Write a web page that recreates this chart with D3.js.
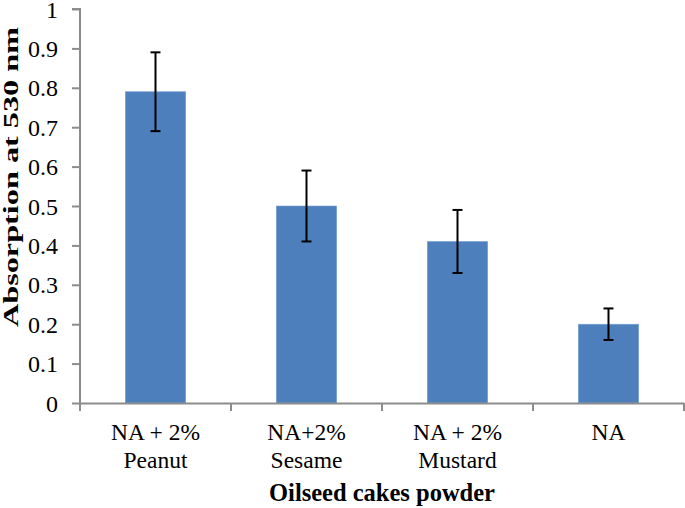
<!DOCTYPE html>
<html><head><meta charset="utf-8">
<script src="https://cdn.jsdelivr.net/npm/d3@7"></script>
<style>html,body{margin:0;padding:0;background:#fff;} text{font-family:"Liberation Serif","Times New Roman",Times,serif;}</style>
</head><body>
<svg id="c" width="685" height="508"></svg>
<script>
const categories = [["NA + 2%","Peanut"],["NA+2%","Sesame"],["NA + 2%","Mustard"],["NA"]];
const values = [0.79, 0.50, 0.41, 0.20];
const errUpper = [0.89, 0.59, 0.49, 0.24];
const errLower = [0.69, 0.41, 0.33, 0.16];
const yTicks = [0,0.1,0.2,0.3,0.4,0.5,0.6,0.7,0.8,0.9,1];
const yTickLabels = ["0","0.1","0.2","0.3","0.4","0.5","0.6","0.7","0.8","0.9","1"];
const xTitle = "Oilseed cakes powder";
const yTitle = "Absorption at 530 nm";

const svg = d3.select("#c");
const m = {left:80, right:1, top:9, bottom:105};
const W = 685, H = 508;
const x = d3.scaleBand().domain(d3.range(categories.length)).range([m.left, W - m.right]).paddingInner(0.6).paddingOuter(0.3);
const xb = d3.scaleBand().domain(d3.range(categories.length)).range([m.left, W - m.right]);
const y = d3.scaleLinear().domain([0,1]).range([H - m.bottom, m.top]);
const font = "Liberation Serif, Times New Roman, Times, serif";

// pattern
const defs = svg.append("defs");
const pat = defs.append("pattern").attr("id","dots").attr("patternUnits","userSpaceOnUse").attr("width",4).attr("height",4);
pat.append("rect").attr("width",4).attr("height",4).attr("fill","#4c7fbc");
pat.append("rect").attr("x",1).attr("y",1).attr("width",1).attr("height",1).attr("fill","#6a7d96");
pat.append("rect").attr("x",3).attr("y",3).attr("width",1).attr("height",1).attr("fill","#5a7dab");

// bars
svg.selectAll("rect.bar").data(values).join("rect").attr("class","bar")
  .attr("x",(d,i)=>x(i)).attr("width",x.bandwidth())
  .attr("y",d=>y(d)).attr("height",d=>y(0)-y(d))
  .attr("fill","url(#dots)").attr("stroke","#7aa3d6").attr("stroke-width",0.6);

// y axis
const ya = svg.append("g").attr("transform",`translate(${m.left},0)`)
  .call(d3.axisLeft(y).tickValues(yTicks).tickFormat((d,i)=>yTickLabels[i]).tickSize(8).tickPadding(14));
ya.attr("font-family",null).attr("font-size",null);
ya.select(".domain").attr("stroke","#8c8c8c").attr("stroke-width",2).attr("d",`M-8,${y(1)}H0V${y(0)}`);
ya.selectAll(".tick line").attr("stroke","#8c8c8c").attr("stroke-width",2);
ya.selectAll(".tick text").attr("font-family",font).attr("font-size",24).attr("fill","#000").attr("dy","0.34em");

// x axis
const xa = svg.append("g").attr("transform",`translate(0,${y(0)})`)
  .call(d3.axisBottom(xb).tickValues([]).tickSizeOuter(0));
xa.select(".domain").attr("stroke","#8c8c8c").attr("stroke-width",2);
const bounds = [m.left].concat(d3.range(categories.length).map(i=>xb(i)+xb.bandwidth()));
xa.selectAll("line.sep").data(bounds).join("line").attr("class","sep")
  .attr("x1",d=>d).attr("x2",d=>d).attr("y1",0).attr("y2",8)
  .attr("stroke","#8c8c8c").attr("stroke-width",2);

// category labels
const lab = svg.append("g");
categories.forEach((c,i)=>{
  const cx = xb(i)+xb.bandwidth()/2;
  const t = lab.append("text").attr("x",cx).attr("y",440)
    .attr("text-anchor","middle").attr("font-family",font).attr("font-size",23.5).attr("fill","#000");
  c.forEach((line,j)=>t.append("tspan").attr("x",cx).attr("dy", j===0?0:28).text(line));
});

// error bars
const eb = svg.append("g").attr("stroke","#000").attr("stroke-width",2);
values.forEach((v,i)=>{
  const cx = x(i)+x.bandwidth()/2;
  eb.append("line").attr("x1",cx).attr("x2",cx).attr("y1",y(errUpper[i])).attr("y2",y(errLower[i]));
  eb.append("line").attr("x1",cx-5).attr("x2",cx+5).attr("y1",y(errUpper[i])).attr("y2",y(errUpper[i]));
  eb.append("line").attr("x1",cx-5).attr("x2",cx+5).attr("y1",y(errLower[i])).attr("y2",y(errLower[i]));
});

// titles
svg.append("text").attr("x",(m.left+W-m.right)/2).attr("y",501).attr("text-anchor","middle")
  .attr("font-family",font).attr("font-weight","bold").attr("font-size",24.5).text(xTitle);
svg.append("text").attr("transform",`translate(18,177) rotate(-90)`).attr("text-anchor","middle")
  .attr("font-family",font).attr("font-weight","bold").attr("font-size",20.5)
  .attr("textLength",300).attr("lengthAdjust","spacingAndGlyphs").text(yTitle);
</script>
</body></html>
